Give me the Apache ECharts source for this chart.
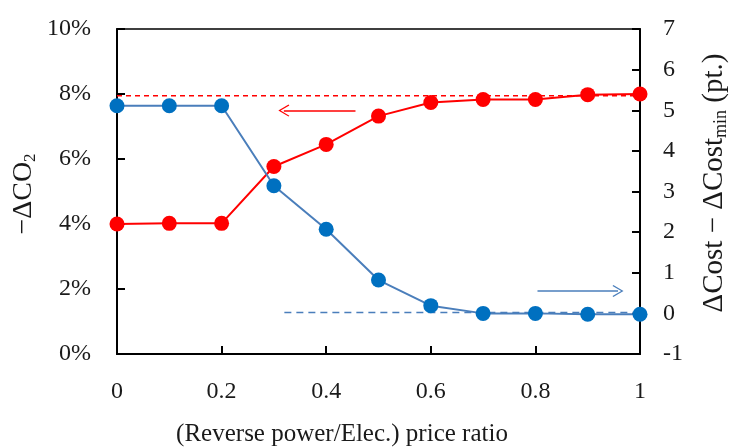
<!DOCTYPE html>
<html><head><meta charset="utf-8">
<script src="https://cdn.jsdelivr.net/npm/echarts@6/dist/echarts.min.js"></script>
<style>html,body{margin:0;padding:0;background:#fff}#c{width:731px;height:448px}</style>
</head><body><div id="c"></div>
<script>
const xValues = [0, 0.1, 0.2, 0.3, 0.4, 0.5, 0.6, 0.7, 0.8, 0.9, 1.0];
const co2Values = [4.0, 4.02, 4.02, 5.77, 6.45, 7.32, 7.74, 7.83, 7.83, 7.98, 8.0];
const costValues = [5.11, 5.11, 5.11, 3.14, 2.07, 0.82, 0.19, 0.0, 0.0, -0.02, -0.02];
const co2RefLine = [[0, 7.95], [1, 7.95]];
const costRefLine = [[0.32, 0.02], [1, 0.02]];
const co2Arrow = [[0.456, 7.49], [0.319, 7.49]];
const costArrow = [[0.804, 0.55], [0.958, 0.55]];
const xTicks = ['0', '0.2', '0.4', '0.6', '0.8', '1'];

const FONT = 'Liberation Serif';
const TXT = '#1a1a1a';
const RED = '#FF0000';
const BLUE = '#0070C0';
const BLUE_LINE = '#4A7EBB';
const chevron = 'path://M0,0 L9,13 L7.6,14 L0,3 L-7.6,14 L-9,13 Z';

const chart = echarts.init(document.getElementById('c'), null, {renderer: 'canvas'});
chart.setOption({
  animation: false,
  backgroundColor: '#fff',
  grid: {left: 117, right: 91, top: 29, bottom: 94, show: true, borderColor: '#000', borderWidth: 1.5, containLabel: false},
  xAxis: {
    type: 'value', min: 0, max: 1, interval: 0.2,
    axisLine: {show: true, lineStyle: {color: '#000', width: 2}},
    axisTick: {show: true, inside: true, length: 8, lineStyle: {color: '#000', width: 2}},
    splitLine: {show: false},
    axisLabel: {fontFamily: FONT, fontSize: 24, color: TXT, margin: 26,
      formatter: v => xTicks[Math.round(v / 0.2)]}
  },
  yAxis: [{
    type: 'value', min: 0, max: 10, interval: 2, position: 'left',
    axisLine: {show: true, lineStyle: {color: '#000', width: 2}},
    axisTick: {show: true, inside: true, length: 8, lineStyle: {color: '#000', width: 2}},
    splitLine: {show: false},
    axisLabel: {fontFamily: FONT, fontSize: 24, color: TXT, margin: 26, formatter: '{value}%'}
  }, {
    type: 'value', min: -1, max: 7, interval: 1, position: 'right',
    axisLine: {show: true, lineStyle: {color: '#000', width: 2}},
    axisTick: {show: true, inside: true, length: 8, lineStyle: {color: '#000', width: 2}},
    splitLine: {show: false},
    axisLabel: {fontFamily: FONT, fontSize: 24, color: TXT, margin: 23}
  }],
  graphic: [{
    type: 'text', x: 24, y: 194, rotation: Math.PI / 2,
    style: {
      text: '{a|−ΔCO}{s|2}', align: 'center', verticalAlign: 'middle',
      rich: {a: {fontFamily: FONT, fontSize: 28, fill: TXT},
             s: {fontFamily: FONT, fontSize: 17, fill: TXT, padding: [14, 0, 0, 0]}}
    }
  }, {
    type: 'text', x: 714, y: 183, rotation: Math.PI / 2,
    style: {
      text: '{a|ΔCost − ΔCost}{s|min}{a| (pt.)}', align: 'center', verticalAlign: 'middle',
      rich: {a: {fontFamily: FONT, fontSize: 29, fill: TXT},
             s: {fontFamily: FONT, fontSize: 18, fill: TXT, padding: [15, 0, 0, 0]}}
    }
  }, {
    type: 'text', x: 342, y: 434,
    style: {text: '(Reverse power/Elec.) price ratio', align: 'center', verticalAlign: 'middle',
      fontFamily: FONT, fontSize: 25, fill: TXT}
  }],
  series: [{
    type: 'line', yAxisIndex: 0, data: co2RefLine, symbol: 'none', silent: true,
    lineStyle: {color: RED, width: 1.5, type: [5, 4]}, z: 1,
    markLine: {silent: true, symbol: ['none', chevron], symbolSize: [12, 11],
      lineStyle: {color: RED, width: 1.5, type: 'solid'}, label: {show: false},
      itemStyle: {color: RED},
      data: [[{coord: co2Arrow[0]}, {coord: co2Arrow[1]}]]}
  }, {
    type: 'line', yAxisIndex: 1, data: costRefLine, symbol: 'none', silent: true,
    lineStyle: {color: BLUE_LINE, width: 1.5, type: [7, 5]}, z: 1,
    markLine: {silent: true, symbol: ['none', chevron], symbolSize: [12, 11],
      lineStyle: {color: BLUE_LINE, width: 1.5, type: 'solid'}, label: {show: false},
      itemStyle: {color: BLUE_LINE},
      data: [[{coord: costArrow[0]}, {coord: costArrow[1]}]]}
  }, {
    type: 'line', yAxisIndex: 0, data: xValues.map((x, i) => [x, co2Values[i]]),
    symbol: 'circle', symbolSize: 15, itemStyle: {color: RED}, lineStyle: {color: RED, width: 2}, z: 3
  }, {
    type: 'line', yAxisIndex: 1, data: xValues.map((x, i) => [x, costValues[i]]),
    symbol: 'circle', symbolSize: 15, itemStyle: {color: BLUE}, lineStyle: {color: BLUE_LINE, width: 2}, z: 3
  }]
});
</script></body></html>
